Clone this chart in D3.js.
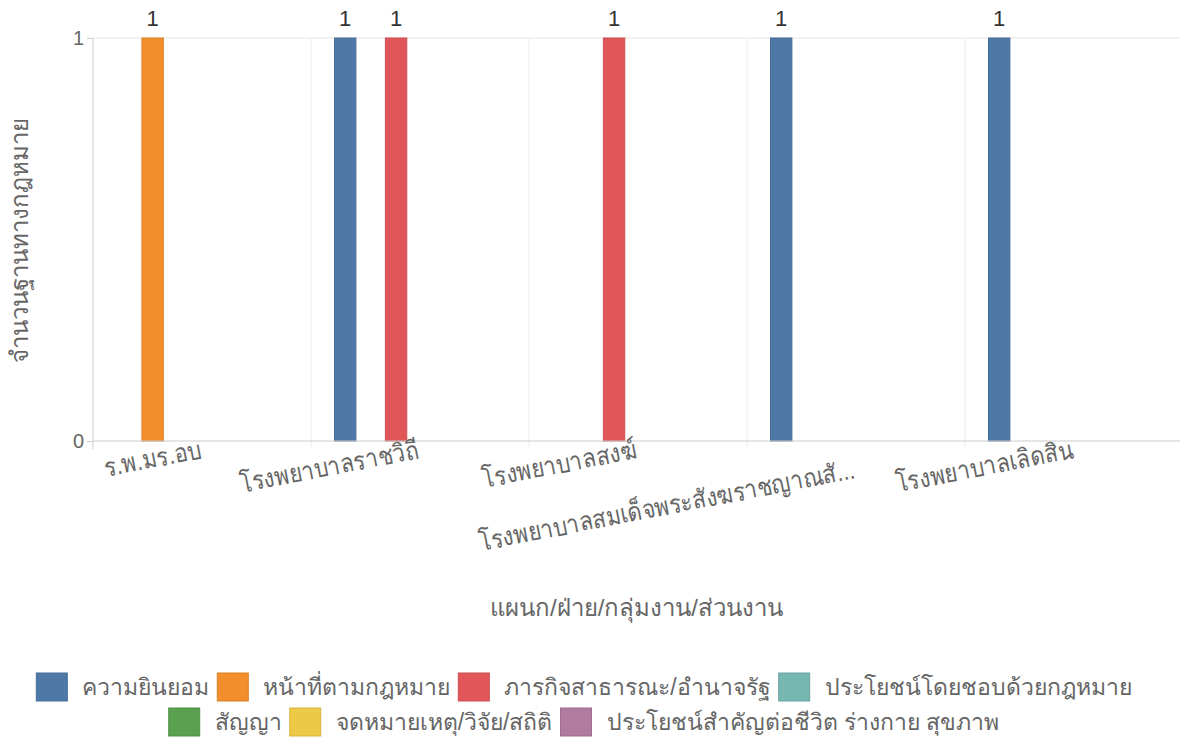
<!DOCTYPE html>
<html><head><meta charset="utf-8">
<script src="https://cdn.jsdelivr.net/npm/d3@7"></script>
<style>body{margin:0;background:#fff;} svg{display:block;font-family:"Liberation Sans",Arial,sans-serif;}</style>
</head><body><svg id="c" width="1180" height="742"></svg>
<script>
const categories = ["ร.พ.มร.อบ","โรงพยาบาลราชวิถี","โรงพยาบาลสงฆ์","โรงพยาบาลสมเด็จพระสังฆราชญาณสั...","โรงพยาบาลเลิดสิน"];
const seriesNames = ["ความยินยอม","หน้าที่ตามกฎหมาย","ภารกิจสาธารณะ/อำนาจรัฐ","ประโยชน์โดยชอบด้วยกฎหมาย","สัญญา","จดหมายเหตุ/วิจัย/สถิติ","ประโยชน์สำคัญต่อชีวิต ร่างกาย สุขภาพ"];
const seriesColors = ["#4e79a7","#f28e2b","#e15759","#76b7b2","#59a14f","#edc948","#b07aa1"];
// values[series][category]
const s0 = [0,1,0,1,1];
const s1 = [1,0,0,0,0];
const s2 = [0,1,1,0,0];
const s3 = [0,0,0,0,0];
const s4 = [0,0,0,0,0];
const s5 = [0,0,0,0,0];
const s6 = [0,0,0,0,0];
const seriesValues = [s0,s1,s2,s3,s4,s5,s6];
const yTicks = [0,1];
const xTitle = "แผนก/ฝ่าย/กลุ่มงาน/ส่วนงาน";
const yTitle = "จำนวนฐานทางกฎหมาย";

const svg = d3.select("#c");
const m = {l:93, r:1180, t:38, b:441};
const x0 = d3.scaleBand().domain(categories).range([m.l, m.r + 3]);
const x1 = d3.scaleBand().domain(d3.range(seriesNames.length)).range([23, 23 + 25*7]).paddingInner(3/25).paddingOuter(0);
const y = d3.scaleLinear().domain([0,1]).range([m.b, m.t]);

// grid
const g = svg.append("g");
g.selectAll(".vg").data(categories.slice(1)).join("line")
  .attr("x1", d=>x0(d)).attr("x2", d=>x0(d)).attr("y1", m.t).attr("y2", m.b+8)
  .attr("stroke","#ececec").attr("stroke-width",1);
g.selectAll(".hg").data(yTicks.filter(v=>v>0)).join("line")
  .attr("x1", m.l).attr("x2", m.r).attr("y1", d=>y(d)).attr("y2", d=>y(d))
  .attr("stroke","#e6e6e6").attr("stroke-width",1);

// bars
const data = [];
seriesValues.forEach((arr, si) => arr.forEach((v, ci) => { if (v > 0) data.push({si, ci, v}); }));
svg.append("g").selectAll("rect").data(data).join("rect")
  .attr("x", d => x0(categories[d.ci]) + x1(d.si) + 0.5)
  .attr("y", d => y(d.v))
  .attr("width", x1.bandwidth() - 1)
  .attr("height", d => y(0) - y(d.v))
  .attr("fill", d => seriesColors[d.si])
  .attr("stroke", d => d3.color(seriesColors[d.si]).darker(0.3))
  .attr("stroke-width", 1);

svg.append("g").selectAll("text").data(data).join("text")
  .attr("x", d => x0(categories[d.ci]) + x1(d.si) + x1.bandwidth()/2)
  .attr("y", d => y(d.v) - 12)
  .attr("text-anchor","middle")
  .attr("font-size", 22).attr("fill","#333")
  .text(d => d.v);

// y axis
const ya = svg.append("g").attr("transform",`translate(${m.l},0)`)
  .call(d3.axisLeft(y).tickValues(yTicks).tickSize(6).tickFormat(d3.format("d")));
ya.select(".domain").attr("stroke","#ccc").attr("d", `M0,${m.t}V${m.b}`);
ya.selectAll(".tick line").attr("stroke","#ccc");
ya.selectAll(".tick text").attr("font-size",20).attr("fill","#666").attr("font-family","Liberation Sans, Arial, sans-serif").attr("x",-9);

// x axis
const xa = svg.append("g").attr("transform",`translate(0,${m.b})`)
  .call(d3.axisBottom(x0).tickSize(0).tickFormat(""));
xa.select(".domain").attr("stroke","#ccc").attr("d", `M${m.l},0H${m.r}`);
svg.append("line").attr("x1",m.l).attr("x2",m.l).attr("y1",m.b).attr("y2",m.b+8).attr("stroke","#ccc");

svg.append("g").selectAll("text").data(categories).join("text")
  .attr("transform", (d,i) => `translate(${x0(d)+x0.bandwidth()/2},${m.b + 17 + (i===3?20:0)}) rotate(-11) scale(0.85,1)`)
  .attr("text-anchor","end")
  .attr("font-size", 26).attr("fill","#666")
  .text(d => d);

// titles
svg.append("text").attr("x", (m.l+m.r)/2).attr("y", 616).attr("text-anchor","middle")
  .attr("font-size",24).attr("fill","#666").text(xTitle);
svg.append("text").attr("transform",`translate(28,240) rotate(-90)`).attr("text-anchor","middle")
  .attr("font-size",24).attr("fill","#666").text(yTitle);

// legend
const leg = svg.append("g");
const items = seriesNames.map((n,i)=>({n,i}));
const boxW = 31, boxH = 28, gapBT = 15, gapItem = 8, fs = 23;
const tmp = leg.append("text").attr("font-size",fs);
items.forEach(it => { tmp.text(it.n); it.w = boxW + gapBT + tmp.node().getComputedTextLength(); });
tmp.remove();
const maxW = 1120;
const rows = [[]]; let cw = 0;
items.forEach(it => {
  const add = (rows[rows.length-1].length ? gapItem : 0) + it.w;
  if (cw + add > maxW && rows[rows.length-1].length) { rows.push([it]); cw = it.w; }
  else { rows[rows.length-1].push(it); cw += add; }
});
rows.forEach((row, ri) => {
  const tw = d3.sum(row, d=>d.w) + gapItem*(row.length-1);
  let cx = 584 - tw/2;
  const cy = 687 + ri*35;
  row.forEach(it => {
    leg.append("rect").attr("x",cx).attr("y",cy-boxH/2).attr("width",boxW).attr("height",boxH)
      .attr("fill",seriesColors[it.i]).attr("stroke", d3.color(seriesColors[it.i]).darker(0.3)).attr("stroke-width",1);
    leg.append("text").attr("x",cx+boxW+gapBT).attr("y",cy).attr("dy","0.35em")
      .attr("font-size",fs).attr("fill","#666").text(it.n);
    cx += it.w + gapItem;
  });
});
</script></body></html>
